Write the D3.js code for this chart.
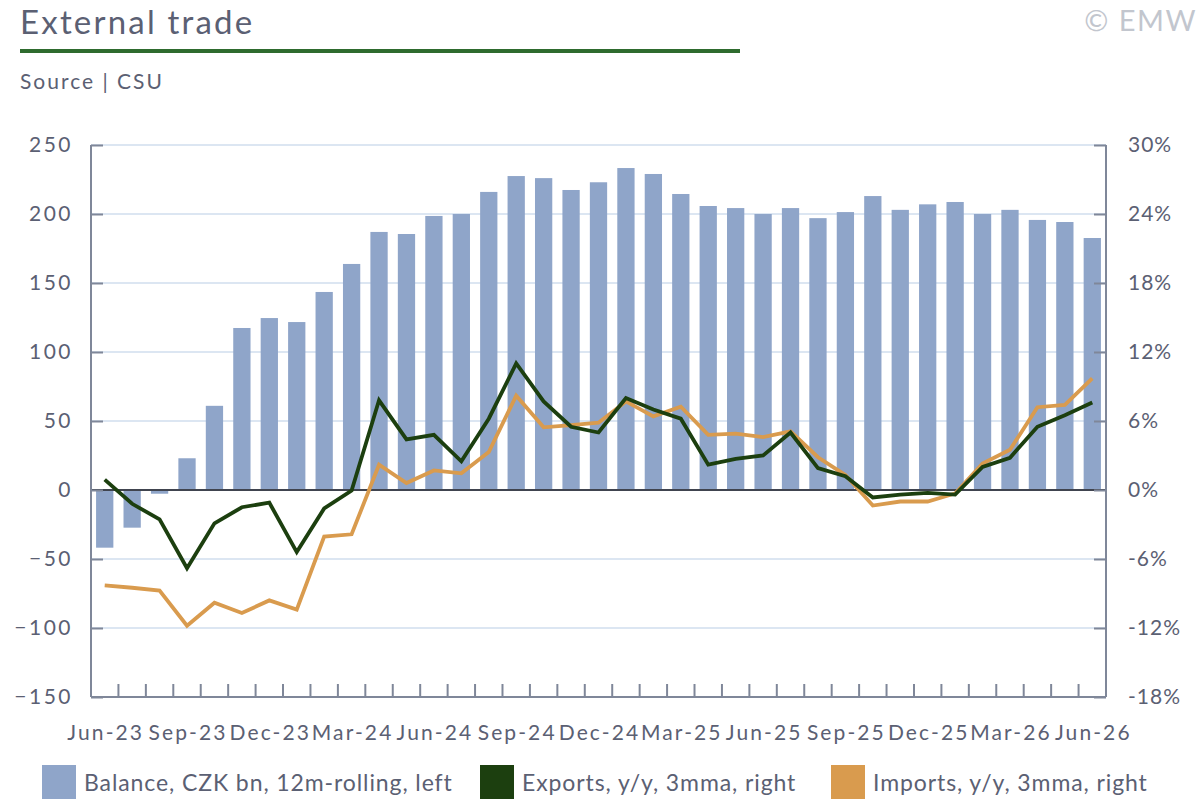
<!DOCTYPE html>
<html>
<head>
<meta charset="utf-8">
<script src="https://cdn.jsdelivr.net/npm/d3@7"></script>
<style>
  body { margin: 0; background: #fff; }
  svg { font-family: Lato, "Open Sans", sans-serif; }
</style>
</head>
<body>
<div id="chart"></div>
<script>
// Months, Jun-23 .. Jun-26
const months = [
  'Jun-23','Jul-23','Aug-23','Sep-23','Oct-23','Nov-23','Dec-23',
  'Jan-24','Feb-24','Mar-24','Apr-24','May-24','Jun-24','Jul-24','Aug-24','Sep-24','Oct-24','Nov-24','Dec-24',
  'Jan-25','Feb-25','Mar-25','Apr-25','May-25','Jun-25','Jul-25','Aug-25','Sep-25','Oct-25','Nov-25','Dec-25',
  'Jan-26','Feb-26','Mar-26','Apr-26','May-26','Jun-26'
];

// Balance, CZK bn, 12m-rolling (left axis)
const balance = [
  -41.8, -27.3, -2.7, 23, 61, 117.4, 124.6,
  121.7, 143.5, 163.8, 187, 185.5, 198.6, 200, 216, 227.5, 226, 217.4, 223,
  233.3, 229, 214.5, 205.8, 204.3, 200, 204.3, 197, 201.4, 213, 203, 207,
  208.7, 200, 203, 195.7, 194.2, 182.6
];

// Exports, y/y %, 3mma (right axis)
const exportsYoY = [
  0.9, -1.2, -2.55, -6.8, -2.9, -1.5, -1.1,
  -5.4, -1.6, -0.05, 7.8, 4.4, 4.8, 2.5, 6.2, 11.0, 7.7, 5.5, 5.0,
  8.0, 7.0, 6.2, 2.2, 2.7, 3.0, 5.0, 1.9, 1.2, -0.65, -0.4, -0.25,
  -0.4, 2.0, 2.8, 5.5, 6.5, 7.6
];

// Imports, y/y %, 3mma (right axis)
const importsYoY = [
  -8.3, -8.5, -8.75, -11.8, -9.8, -10.7, -9.6,
  -10.4, -4.05, -3.85, 2.2, 0.6, 1.7, 1.45, 3.3, 8.2, 5.45, 5.65, 5.85,
  7.7, 6.4, 7.25, 4.8, 4.9, 4.6, 5.1, 2.85, 1.3, -1.35, -1.0, -1.0,
  -0.3, 2.3, 3.5, 7.2, 7.4, 9.7
];

const leftTicks = [-150, -100, -50, 0, 50, 100, 150, 200, 250];
const rightTicks = [-18, -12, -6, 0, 6, 12, 18, 24, 30];

const width = 1200;
const height = 800;
const plot = { left: 91, right: 1106, top: 145, bottom: 697 };

const textColor = '#5b6073';
const axisColor = '#7f8799';
const gridColor = '#dce6f2';

const svg = d3.select('#chart').append('svg')
  .attr('width', width)
  .attr('height', height);

// Header
svg.append('text')
  .attr('x', 20).attr('y', 34)
  .attr('font-size', 33)
  .attr('letter-spacing', 2.2)
  .attr('fill', textColor)
  .text('External trade');
svg.append('rect')
  .attr('x', 20).attr('y', 49)
  .attr('width', 720).attr('height', 4)
  .attr('fill', '#2e6b2e');
svg.append('text')
  .attr('x', 20).attr('y', 89)
  .attr('font-size', 21)
  .attr('letter-spacing', 2)
  .attr('fill', textColor)
  .text('Source | CSU');
svg.append('text')
  .attr('x', 1197).attr('y', 31)
  .attr('text-anchor', 'end')
  .attr('font-size', 29)
  .attr('letter-spacing', 1.5)
  .attr('fill', '#c2c6ce')
  .text('© EMW');

// Scales
const x = d3.scaleBand()
  .domain(months)
  .range([plot.left, plot.right])
  .paddingInner(0.37)
  .paddingOuter(0.185);

const xStep = d3.scaleBand().domain(months).range([plot.left, plot.right]);

const yLeft = d3.scaleLinear().domain([-150, 250]).range([plot.bottom, plot.top]);
const yRight = d3.scaleLinear().domain([-18, 30]).range([plot.bottom, plot.top]);

// Gridlines
svg.append('g')
  .selectAll('line')
  .data(leftTicks.filter(d => d !== -150 && d !== 0))
  .enter()
  .append('line')
  .attr('x1', plot.left).attr('x2', plot.right)
  .attr('y1', d => yLeft(d)).attr('y2', d => yLeft(d))
  .attr('stroke', gridColor)
  .attr('stroke-width', 2);

// Bars
svg.append('g')
  .selectAll('rect')
  .data(balance)
  .enter()
  .append('rect')
  .attr('x', (d, i) => x(months[i]))
  .attr('width', x.bandwidth())
  .attr('y', d => Math.min(yLeft(d), yLeft(0)))
  .attr('height', d => Math.abs(yLeft(d) - yLeft(0)))
  .attr('fill', '#8fa5c9');

// Zero line
svg.append('line')
  .attr('x1', plot.left).attr('x2', plot.right)
  .attr('y1', yLeft(0)).attr('y2', yLeft(0))
  .attr('stroke', '#40444f')
  .attr('stroke-width', 2);

// Lines
const lineBuilder = d3.line()
  .x((d, i) => xStep(months[i]) + xStep.bandwidth() / 2)
  .y(d => yRight(d));

svg.append('path')
  .datum(importsYoY)
  .attr('d', lineBuilder)
  .attr('fill', 'none')
  .attr('stroke', '#d99b4e')
  .attr('stroke-width', 3.8);

svg.append('path')
  .datum(exportsYoY)
  .attr('d', lineBuilder)
  .attr('fill', 'none')
  .attr('stroke', '#1c3f0f')
  .attr('stroke-width', 3.8);

// Left axis
const leftAxis = d3.axisLeft(yLeft)
  .tickValues(leftTicks)
  .tickSize(-12)
  .tickPadding(18);
const gLeft = svg.append('g')
  .attr('transform', `translate(${plot.left},0)`)
  .call(leftAxis);

// Right axis
const rightAxis = d3.axisRight(yRight)
  .tickValues(rightTicks)
  .tickSize(-12)
  .tickPadding(22)
  .tickFormat(d => d + '%');
const gRight = svg.append('g')
  .attr('transform', `translate(${plot.right},0)`)
  .call(rightAxis);

// Bottom axis: ticks between months, labels every third month
const bottomAxis = d3.axisBottom(xStep)
  .tickSize(0)
  .tickPadding(28)
  .tickFormat((d, i) => i % 3 === 0 ? d : '');
const gBottom = svg.append('g')
  .attr('transform', `translate(0,${plot.bottom})`)
  .call(bottomAxis);

gBottom.selectAll('.tick-sep')
  .data(months.slice(1))
  .enter()
  .append('line')
  .attr('x1', d => xStep(d)).attr('x2', d => xStep(d))
  .attr('y1', 0).attr('y2', -13)
  .attr('stroke', axisColor)
  .attr('stroke-width', 2);

[gLeft, gRight, gBottom].forEach(g => {
  g.select('.domain').attr('stroke', axisColor).attr('stroke-width', 2);
  g.selectAll('.tick line').attr('stroke', axisColor).attr('stroke-width', 2);
  g.selectAll('.tick text')
    .attr('fill', textColor)
    .attr('font-size', 21)
    .attr('font-family', 'Lato, "Open Sans", sans-serif');
});
gLeft.select('.domain').attr('d', `M0,${plot.top}V${plot.bottom}`);
gRight.select('.domain').attr('d', `M0,${plot.top}V${plot.bottom}`);
gBottom.select('.domain').attr('d', `M${plot.left},0H${plot.right}`);
gLeft.selectAll('.tick text').attr('letter-spacing', 2.5);
gRight.selectAll('.tick text').attr('text-anchor', 'start').attr('letter-spacing', 1);
gBottom.selectAll('.tick text').attr('letter-spacing', 2.1).attr('dx', 1);

// Legend
const legendItems = [
  { label: 'Balance, CZK bn, 12m-rolling, left', color: '#8fa5c9', x: 42 },
  { label: 'Exports, y/y, 3mma, right', color: '#1c3f0f', x: 480 },
  { label: 'Imports, y/y, 3mma, right', color: '#d99b4e', x: 831 }
];

const legend = svg.append('g')
  .selectAll('g')
  .data(legendItems)
  .enter()
  .append('g')
  .attr('transform', d => `translate(${d.x},765)`);

legend.append('rect')
  .attr('width', 34).attr('height', 34)
  .attr('fill', d => d.color);

legend.append('text')
  .attr('x', 42).attr('y', 26)
  .attr('font-size', 23)
  .attr('letter-spacing', 0.9)
  .attr('fill', textColor)
  .text(d => d.label);
</script>
</body>
</html>
